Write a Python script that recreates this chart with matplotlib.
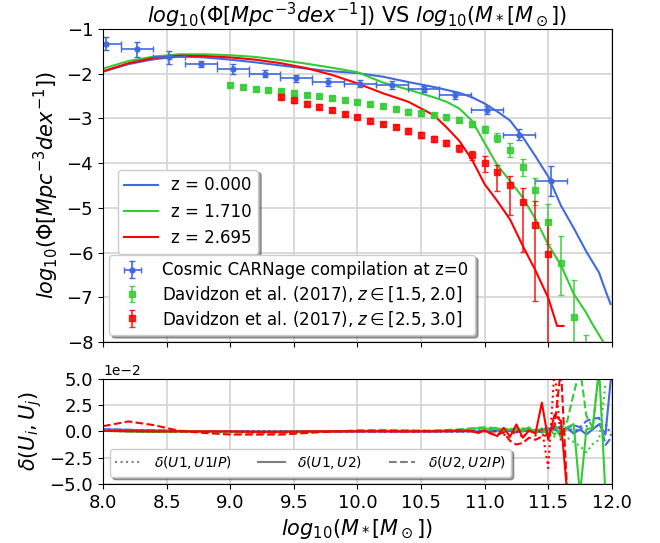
import numpy as np
import matplotlib
matplotlib.use('Agg')
import matplotlib.pyplot as plt
from matplotlib.ticker import ScalarFormatter

# model stellar mass functions
x_z0 = [8.0, 8.2, 8.4, 8.6, 8.8, 9.0, 9.2, 9.4, 9.6, 9.8, 10.0, 10.2, 10.4, 10.6, 10.8,
        10.9, 11.0, 11.1, 11.2, 11.3, 11.4, 11.5, 11.6, 11.7, 11.8, 11.9, 11.95, 11.99]
y_z0 = [-1.96, -1.79, -1.68, -1.62, -1.64, -1.69, -1.75, -1.82, -1.89, -1.95, -1.99, -2.07, -2.19, -2.30, -2.43,
        -2.53, -2.67, -2.85, -3.05, -3.42, -3.85, -4.30, -4.95, -5.45, -5.98, -6.45, -6.85, -7.15]

x_z1 = [8.0, 8.2, 8.4, 8.6, 8.8, 9.0, 9.2, 9.4, 9.6, 9.8, 10.0, 10.2, 10.4, 10.6, 10.7, 10.8,
        10.9, 11.0, 11.1, 11.2, 11.3, 11.4, 11.5, 11.6, 11.7, 11.8, 11.85, 11.93]
y_z1 = [-1.89, -1.72, -1.62, -1.57, -1.57, -1.59, -1.63, -1.70, -1.78, -1.87, -1.97, -2.20, -2.36, -2.53, -2.63, -2.78,
        -3.05, -3.55, -4.05, -4.40, -4.77, -5.25, -5.82, -6.28, -6.92, -7.35, -7.61, -7.98]

x_z2 = [8.0, 8.2, 8.4, 8.6, 8.8, 9.0, 9.2, 9.4, 9.6, 9.8, 10.0, 10.2, 10.4, 10.6, 10.7, 10.8,
        10.9, 11.0, 11.1, 11.2, 11.3, 11.4, 11.5, 11.57, 11.62]
y_z2 = [-1.95, -1.77, -1.65, -1.60, -1.61, -1.64, -1.69, -1.77, -1.88, -2.03, -2.22, -2.44, -2.63, -2.93, -3.20, -3.50,
        -3.92, -4.47, -4.85, -5.26, -5.85, -6.40, -7.01, -7.64, -7.64]

# observations
x_carnage = [8.02, 8.27, 8.52, 8.77, 9.02, 9.27, 9.52, 9.77, 10.02, 10.27, 10.52, 10.77, 11.02, 11.27, 11.52]
y_carnage = [-1.33, -1.46, -1.64, -1.78, -1.90, -2.00, -2.11, -2.19, -2.23, -2.25, -2.35, -2.49, -2.81, -3.37, -4.40]
yerr_carnage = [0.15, 0.16, 0.15, 0.07, 0.11, 0.08, 0.08, 0.09, 0.08, 0.09, 0.07, 0.08, 0.09, 0.12, 0.33]
xerr_carnage = 0.125

x_dav1 = [9.0, 9.1, 9.2, 9.3, 9.4, 9.5, 9.6, 9.7, 9.8, 9.9, 10.0, 10.1, 10.2, 10.3, 10.4,
          10.5, 10.6, 10.7, 10.8, 10.9, 11.0, 11.1, 11.2, 11.3, 11.4, 11.5, 11.6, 11.7, 11.8]
y_dav1 = [-2.26, -2.30, -2.34, -2.37, -2.40, -2.43, -2.47, -2.51, -2.55, -2.59, -2.63, -2.68, -2.73, -2.79, -2.85,
          -2.89, -2.93, -2.98, -3.03, -3.12, -3.25, -3.43, -3.70, -4.08, -4.60, -5.31, -6.24, -7.45, -8.60]
err_lo_dav1 = [0.04, 0.04, 0.04, 0.04, 0.04, 0.04, 0.04, 0.04, 0.04, 0.04, 0.04, 0.04, 0.04, 0.05, 0.05,
               0.05, 0.05, 0.05, 0.06, 0.07, 0.08, 0.11, 0.16, 0.22, 0.34, 0.50, 0.71, 1.00, 1.00]
err_hi_dav1 = [0.04, 0.04, 0.04, 0.04, 0.04, 0.04, 0.04, 0.04, 0.04, 0.04, 0.04, 0.04, 0.04, 0.05, 0.05,
               0.05, 0.05, 0.05, 0.06, 0.06, 0.07, 0.10, 0.14, 0.18, 0.27, 0.40, 0.60, 0.83, 0.75]

x_dav2 = [9.4, 9.5, 9.6, 9.7, 9.8, 9.9, 10.0, 10.1, 10.2, 10.3, 10.4,
          10.5, 10.6, 10.7, 10.8, 10.9, 11.0, 11.1, 11.2, 11.3, 11.4, 11.5]
y_dav2 = [-2.52, -2.60, -2.67, -2.74, -2.82, -2.90, -2.97, -3.05, -3.13, -3.20, -3.28,
          -3.37, -3.46, -3.56, -3.67, -3.82, -3.99, -4.21, -4.50, -4.88, -5.38, -6.03]
err_lo_dav2 = [0.06, 0.05, 0.05, 0.05, 0.05, 0.05, 0.05, 0.05, 0.05, 0.05, 0.06,
               0.06, 0.06, 0.07, 0.08, 0.12, 0.21, 0.41, 0.65, 1.10, 1.70, 3.00]
err_hi_dav2 = [0.06, 0.05, 0.05, 0.05, 0.05, 0.05, 0.05, 0.05, 0.05, 0.05, 0.06,
               0.06, 0.06, 0.07, 0.08, 0.10, 0.14, 0.16, 0.20, 0.32, 0.54, 0.75]

# relative differences (units of 1e-2)
x_diff = [8.0, 8.2, 8.4, 8.6, 8.8, 9.0, 9.2, 9.4, 9.6, 9.8, 10.0, 10.2, 10.4, 10.6, 10.8,
          10.9, 10.95, 11.0, 11.05, 11.1, 11.15, 11.2, 11.25, 11.3, 11.35, 11.4, 11.45, 11.5,
          11.55, 11.6, 11.65, 11.7, 11.75, 11.8, 11.85, 11.9, 11.95, 12.0]
nan = np.nan
d_z0_u1ip = [0.1, 0.05, 0, 0, 0, 0, 0, 0, 0, 0, 0, 0, 0, 0, 0,
             0.05, 0, 0.1, 0, 0.1, 0, 0.05, 0.1, 0, 0.1, 0.05, 0, 0.1,
             0.2, 0, 0.3, 0.1, 0.2, 0.5, 0.3, 0.6, 0.8, -0.5]
d_z0_u2 = [0.2, 0.15, 0.1, 0.05, 0, 0, 0, 0, 0, 0, 0, 0, 0, 0, 0,
           0, 0, 0.05, -0.05, 0.1, 0, 0.05, -0.1, 0.1, 0, 0.15, -0.1, 0.1,
           0.2, -0.15, 0.3, -0.2, 0.2, -0.3, 0.2, 0.7, -0.3, 6.0]
d_z0_u2ip = [0.2, 0.15, 0.1, 0.05, 0, -0.05, -0.05, -0.05, 0, 0, 0, 0, 0, 0, 0,
             0.05, 0.1, 0.05, 0.1, 0, 0.15, 0.1, 0, 0.1, 0.2, 0.1, 0.2, 0.3,
             0.2, 0.5, 0.3, 0.6, 0.4, 1.0, 1.2, 1.3, -1.3, -0.5]
d_z1_u1ip = [0.05, 0, -0.05, -0.05, 0, -0.05, -0.1, -0.1, -0.05, 0, 0.05, 0.1, 0.1, 0.05, 0.1,
             0.2, 0.25, 0.3, 0.2, 0.3, 0.1, 0.2, 0.3, 0, 0.2, -0.2, 0.3, -0.3,
             -0.5, 0.2, -0.6, -1.0, -1.4, -2.0, -1.2, -0.8, 4.5, nan]
d_z1_u2 = [0.05, 0, -0.05, 0, 0, -0.05, -0.05, -0.05, 0, 0, 0.05, 0.05, 0.05, 0.05, 0.1,
           0.25, 0.3, 0.3, 0.2, 0.3, 0.1, 0.2, 0.3, 0.1, 0.4, -0.2, 0.3, -0.4,
           0.7, -0.6, 0.4, 0.7, -6.0, 0.2, 0.35, 6.0, -6.0, nan]
d_z1_u2ip = [0.1, 0, -0.05, -0.05, 0, -0.1, -0.15, -0.15, -0.1, 0, 0.1, 0.15, 0.1, 0.05, 0.2,
             0.3, 0.35, 0.4, 0.35, 0.3, 0.2, 0.3, 0.1, 0.3, 0.2, 0.1, -0.2, 0.3,
             -0.3, 0.2, 1.0, 3.6, 6.0, 1.5, 0.35, 6.0, 6.0, nan]
d_z2_u1ip = [0.1, 0.05, 0, 0, 0, 0, 0, 0, 0, 0, 0, 0, 0, 0, 0,
             0, -0.1, 0, -0.2, 0.1, -0.3, -0.5, 0.1, -0.6, 0.2, -0.4, 0.3, -3.5,
             6.0, -1.0, nan, nan, nan, nan, nan, nan, nan, nan]
d_z2_u2 = [0.05, 0.02, 0, 0, 0, 0, -0.05, -0.05, 0, 0, 0, 0, 0, 0, 0.05,
           0.05, -0.15, 0.1, -0.2, -0.45, 0.35, -0.5, 0.67, -0.6, 0.1, -0.2, 2.75, -0.8,
           1.6, 1.0, -6.0, nan, nan, nan, nan, nan, nan, nan]
d_z2_u2ip = [0.5, 0.95, 0.6, 0.05, -0.15, -0.3, -0.3, -0.3, -0.15, 0, 0.05, 0.05, 0, 0.05, 0.1,
             0, -0.1, 0.1, -0.2, -0.3, -0.1, -0.9, -1.25, -1.1, -0.6, -0.8, -0.5, -0.3,
             0.5, 6.0, -6.0, nan, nan, nan, nan, nan, nan, nan]

c_blue = 'royalblue'
c_green = '#33cc33'
c_red = 'red'

fig = plt.figure(figsize=(6.6, 5.43), dpi=100)
ax = fig.add_axes([0.156, 0.370, 0.771, 0.577])
ax2 = fig.add_axes([0.156, 0.109, 0.771, 0.193])

l0, = ax.plot(x_z0, y_z0, color=c_blue, lw=1.5, label='z = 0.000')
l1, = ax.plot(x_z1, y_z1, color=c_green, lw=1.5, label='z = 1.710')
l2, = ax.plot(x_z2, y_z2, color=c_red, lw=1.5, label='z = 2.695')

e0 = ax.errorbar(x_carnage, y_carnage, yerr=yerr_carnage, xerr=xerr_carnage, fmt='o', ms=3.5,
                 color=c_blue, capsize=2, lw=1.2, label='Cosmic CARNage compilation at z=0')
e1 = ax.errorbar(x_dav1, y_dav1, yerr=[err_lo_dav1, err_hi_dav1], fmt='s', ms=4, color=c_green,
                 capsize=2, lw=1.2, alpha=0.85, label=r'Davidzon et al. (2017), $z\in[1.5, 2.0]$')
e2 = ax.errorbar(x_dav2, y_dav2, yerr=[err_lo_dav2, err_hi_dav2], fmt='s', ms=4, color=c_red,
                 capsize=2, lw=1.2, alpha=0.85, label=r'Davidzon et al. (2017), $z\in[2.5, 3.0]$')

ax.set_xlim(8, 12)
ax.set_ylim(-8, -1)
ax.set_yticks(np.arange(-8, 0, 1))
ax.tick_params(labelsize=13, labelbottom=False)
ax.grid(True, color='#d3d3d3', lw=1.2)
ax.set_ylabel(r'$log_{10}(\Phi[Mpc^{-3}dex^{-1}])$', fontsize=15)
ax.set_title(r'$log_{10}(\Phi[Mpc^{-3}dex^{-1}])$ VS $log_{10}(M_*[M_\odot])$', fontsize=15, pad=3)

leg1 = ax.legend(handles=[l0, l1, l2], loc='upper left', bbox_to_anchor=(0.029, 0.55),
                 borderaxespad=0, fontsize=12, shadow=True, framealpha=1)
ax.add_artist(leg1)
ax.legend(handles=[e0, e1, e2], loc='lower left', bbox_to_anchor=(0.012, 0.022), borderaxespad=0,
          fontsize=12, shadow=True, framealpha=1, labelspacing=0.3)

# lower panel
styles = [':', '-', '--']
diffs = [[d_z0_u1ip, d_z0_u2, d_z0_u2ip],
         [d_z1_u1ip, d_z1_u2, d_z1_u2ip],
         [d_z2_u1ip, d_z2_u2, d_z2_u2ip]]
for col, series in zip([c_blue, c_green, c_red], diffs):
    for ls, d in zip(styles, series):
        ax2.plot(x_diff, np.array(d) * 1e-2, color=col, ls=ls, lw=1.5)

hs = [ax2.plot([], [], color='gray', ls=ls, lw=1.5)[0] for ls in styles]
ax2.legend(hs, [r'$\delta(U1, U1IP)$', r'$\delta(U1, U2)$', r'$\delta(U2, U2IP)$'],
           loc='lower left', ncol=3, fontsize=10, shadow=True, framealpha=1,
           handlelength=1.9, handletextpad=0.9, columnspacing=1.9)

ax2.set_xlim(8, 12)
ax2.set_ylim(-0.05, 0.05)
ax2.set_xticks(np.arange(8, 12.01, 0.5))
ax2.set_xticklabels(['%.1f' % v for v in np.arange(8, 12.01, 0.5)])
ax2.set_yticks([-0.05, -0.025, 0, 0.025, 0.05])
fmt = ScalarFormatter()
fmt.set_powerlimits((-2, -2))
ax2.yaxis.set_major_formatter(fmt)
ax2.tick_params(labelsize=13)
ax2.grid(True, color='#d3d3d3', lw=1.2)
ax2.set_ylabel(r'$\delta(U_i, U_j)$', fontsize=15)
ax2.set_xlabel(r'$log_{10}(M_*[M_\odot])$', fontsize=15)

fig.savefig('out.png', dpi=100)
